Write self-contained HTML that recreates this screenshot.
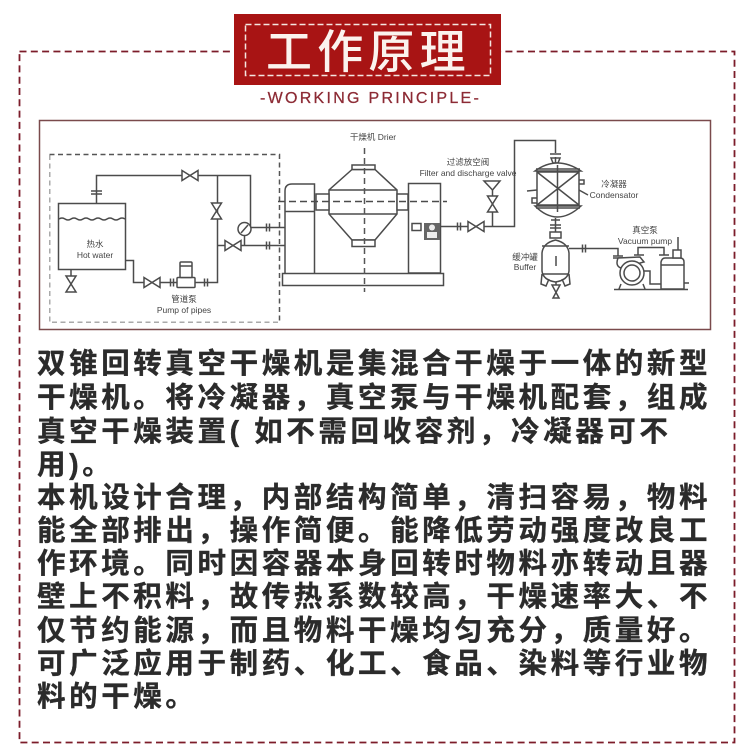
<!DOCTYPE html>
<html lang="zh">
<head>
<meta charset="utf-8">
<title>工作原理</title>
<style>
html,body{margin:0;padding:0;background:#fff}
body{width:750px;height:756px;overflow:hidden;position:relative}
svg{position:absolute;left:0;top:0;display:block}
.d{fill:none;stroke:#4c4c4c;stroke-width:1.5}
.f{fill:#fff;stroke:#4c4c4c;stroke-width:1.5}
.l{font-family:"Liberation Sans","Noto Sans CJK SC",sans-serif;font-size:8.500px;fill:#444;text-anchor:middle}
.t{font-family:"Liberation Sans","Noto Sans CJK SC",sans-serif;font-size:28.500px;font-weight:700;fill:#2b2b2b;letter-spacing:3.600px;stroke:#2b2b2b;stroke-width:.35}
</style>
</head>
<body>
<svg width="750" height="756" viewBox="0 0 750 756" xmlns="http://www.w3.org/2000/svg">
<defs>
<g id="vh"><path class="f" d="M-8,-5 L8,5 L8,-5 L-8,5 Z"/></g>
<g id="vv"><path class="f" d="M-5,-8 L5,8 L-5,8 L5,-8 Z"/></g>
<g id="fl"><path class="d" d="M-1.500,-4 V4 M1.500,-4 V4"/></g>
<filter id="b" x="0" y="0" width="100%" height="100%"><feGaussianBlur stdDeviation="0.35"/></filter>
</defs>

<!-- outer dashed frame -->
<rect x="19.500" y="51.500" width="715" height="691" fill="none" stroke="#7c1c2a" stroke-width="1.800" stroke-dasharray="7 4.300"/>

<!-- title -->
<rect x="234" y="14" width="267" height="71" fill="#a81414"/>
<rect x="245.500" y="24.500" width="245" height="51" fill="none" stroke="#f4e6e0" stroke-width="1.500" stroke-dasharray="6 3"/>
<text x="266" y="68" font-family="'Liberation Sans','Noto Sans CJK SC',sans-serif" font-size="46" font-weight="500" fill="#fbf3ee" letter-spacing="5.200">工作原理</text>
<text x="260" y="103" font-family="'Liberation Sans','Noto Sans CJK SC',sans-serif" font-size="16" fill="#8c2a34" stroke="#8c2a34" stroke-width=".25" letter-spacing="2.280">-WORKING PRINCIPLE-</text>

<!-- diagram frame -->
<rect x="39.500" y="120.500" width="671" height="209" fill="#fff" stroke="#7a4a4c" stroke-width="1.500"/>

<g filter="url(#b)">
<!-- hot-water loop -->
<rect x="49.500" y="154.500" width="230" height="168" fill="none" stroke="#555" stroke-width="1.500" stroke-dasharray="5 3.500"/>
<rect class="d" x="58.500" y="203.500" width="67" height="66"/>
<path class="d" d="M59,219 q3,-2 6,0 t6,0 t6,0 t6,0 t6,0 t6,0 t6,0 t6,0 t6,0 t6,0 t6,0"/>
<path class="d" d="M96.500,203 V175.500 H250.500 V227.500 H285 M217.500,175.500 V282.500 H205 M217.500,245.500 H285 M126,260.500 H133.500 V282.500 H145 M160,282.500 H177 M195,282.500 H205 M244.500,235 V245.500"/>
<path class="d" d="M91,191 H102 M91,194 H102"/>
<use href="#vh" x="190" y="175.500"/>
<use href="#vv" x="216.500" y="211"/>
<use href="#vh" x="233" y="245.500"/>
<use href="#vh" x="152" y="282.500"/>
<use href="#fl" x="172" y="282.500"/>
<use href="#fl" x="206" y="282.500"/>
<use href="#fl" x="268" y="227.500"/>
<use href="#fl" x="268" y="245.500"/>
<circle class="f" cx="244.500" cy="229" r="6.500"/>
<path class="d" d="M241,233 L248,225"/>
<rect class="f" x="177" y="277.500" width="18" height="10" rx="1"/>
<rect class="f" x="180" y="262" width="12" height="15.500" rx="1"/>
<path class="d" d="M180,266 H192"/>
<path class="d" d="M71,269 V276"/>
<use href="#vv" x="71" y="284"/>
<text class="l" x="95" y="247">热水</text>
<text class="l" x="95" y="258">Hot water</text>
<text class="l" x="184" y="302">管道泵</text>
<text class="l" x="184" y="313">Pump of pipes</text>

<!-- drier -->
<text class="l" x="373" y="140">干燥机 Drier</text>
<path class="d" d="M285,273 V191 Q285,184 292,184 H314.500 V273 M285,211.500 H314.500"/>
<rect class="d" x="408.500" y="183.500" width="32" height="89.500"/>
<rect class="f" x="282.500" y="273.500" width="161" height="12"/>
<path class="f" d="M352,169.500 L329,190 V214 L352,240 H375 L397,214 V190 L375,169.500 Z"/>
<path class="d" d="M329,190 H397 M329,214 H397"/>
<rect class="f" x="352" y="165" width="23" height="4.500"/>
<rect class="f" x="352" y="240" width="23" height="6.500"/>
<rect class="f" x="316" y="194" width="13" height="16"/>
<rect class="f" x="397" y="194" width="11" height="16"/>
<path d="M364.500,148 V292" fill="none" stroke="#555" stroke-width="1.500" stroke-dasharray="6 4"/>
<path d="M278,201.500 H447" fill="none" stroke="#4c4c4c" stroke-width="1.500" stroke-dasharray="7 4"/>
<rect class="f" x="412" y="223.500" width="9" height="7"/>
<rect x="424" y="223" width="16" height="17" fill="#666"/>
<circle cx="432" cy="227.500" r="3" fill="#eee"/>
<rect x="427" y="232" width="10" height="6" fill="#eee"/>

<!-- piping to condenser -->
<path class="d" d="M441,226.500 H514.500 V140.500 H555.500 V153"/>
<use href="#fl" x="459" y="226.500"/>
<use href="#vh" x="476" y="226.500"/>
<path class="d" d="M492.500,226.500 V190"/>
<path class="f" d="M484,181 H500 L492.500,190 Z"/>
<use href="#vv" x="492.500" y="204"/>
<text class="l" x="468" y="165">过滤放空阀</text>
<text class="l" x="468" y="176">Filter and discharge valve</text>

<!-- condenser -->
<path class="d" d="M550,154 H561 M555.500,157 V165 M551,158 H560 L558,163 H553 Z"/>
<path class="f" d="M535,171 Q557,155 581,171 Z"/>
<path class="f" d="M535,206 Q557,228 581,206 Z"/>
<rect class="f" x="537" y="172" width="42" height="33"/>
<path class="d" d="M537,172 L579,205 M579,172 L537,205 M557.500,165 V212 M536,169 H580 M536,208 H580"/>
<path class="d" d="M579,180 H584 V184 H579 M579,190 L588,195 M537,190 L527,191 M537,198 H532 V203 H537"/>
<path class="d" d="M551,220 H560 M555.500,218 V232 M550,225 H561 M550,228 H561"/>
<text class="l" x="614" y="187">冷凝器</text>
<text class="l" x="614" y="198">Condensator</text>

<!-- buffer -->
<rect class="f" x="550" y="232" width="11" height="6"/>
<path class="f" d="M542,253 Q543,243 555.500,240 Q568,243 569,253 V271 Q568,280 555.500,282 Q543,280 542,271 Z"/>
<path class="d" d="M542,246 H569 M542,274 H569 M556,256 V266"/>
<path class="d" d="M542,274 L541,284 L546,286 L549,279 M569,274 L570,284 L565,286 L562,279"/>
<path class="d" d="M556,282 V285"/>
<path class="f" d="M552,285 H560 L553,298 H559 Z"/>
<text class="l" x="525" y="260">缓冲罐</text>
<text class="l" x="525" y="270">Buffer</text>

<!-- vacuum pump -->
<path class="d" d="M569,248.500 H618 V256 M613,256 H623 M613,258 H623"/>
<use href="#fl" x="584" y="248.500"/>
<path class="d" d="M638,255 V247.500 H664 V255 M659,255 H669 M634,255 H644"/>
<path class="f" d="M618,258 Q615,266 621,268 L644,262 L640,257 Z"/>
<circle class="f" cx="632" cy="273" r="12"/>
<circle class="d" cx="632" cy="273" r="8"/>
<path class="d" d="M644,271 H650 V284 H661 M614,289.500 H688 M621,284 L619,289 M643,284 L645,289"/>
<path class="f" d="M661,262 Q662,258 665,258 H680 Q684,258 684,262 V289 H661 Z"/>
<path class="d" d="M661,265 H684"/>
<rect class="f" x="673" y="250" width="8" height="8"/>
<path class="d" d="M678,250 V237 M684,283 H689"/>
<text class="l" x="645" y="233">真空泵</text>
<text class="l" x="645" y="244">Vacuum pump</text>
</g>

<!-- body copy -->
<text class="t" x="37" y="373">双锥回转真空干燥机是集混合干燥于一体的新型</text>
<text class="t" x="37" y="407">干燥机。将冷凝器，真空泵与干燥机配套，组成</text>
<text class="t" x="37" y="441">真空干燥装置( 如不需回收容剂，冷凝器可不</text>
<text class="t" x="37" y="474">用)。</text>
<text class="t" x="37" y="507">本机设计合理，内部结构简单，清扫容易，物料</text>
<text class="t" x="37" y="540">能全部排出，操作简便。能降低劳动强度改良工</text>
<text class="t" x="37" y="573">作环境。同时因容器本身回转时物料亦转动且器</text>
<text class="t" x="37" y="606">壁上不积料，故传热系数较高，干燥速率大、不</text>
<text class="t" x="37" y="640">仅节约能源，而且物料干燥均匀充分，质量好。</text>
<text class="t" x="37" y="673">可广泛应用于制药、化工、食品、染料等行业物</text>
<text class="t" x="37" y="706">料的干燥。</text>
</svg>
</body>
</html>
